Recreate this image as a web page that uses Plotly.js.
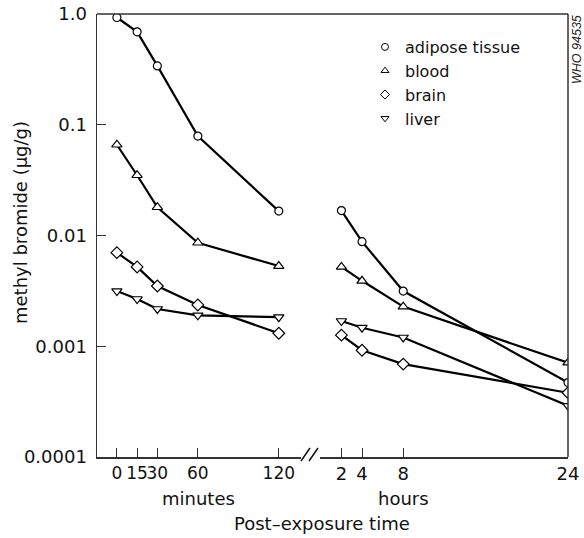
<!DOCTYPE html>
<html>
<head>
<meta charset="utf-8">
<script src="https://cdn.plot.ly/plotly-3.0.1.min.js"></script>
<style>html,body{margin:0;padding:0;background:#fff;}#chart{width:584px;height:538px;}</style>
</head>
<body>
<div id="chart"></div>
<script>
// ---- data ----
var minutes = [0, 15, 30, 60, 120];
var hours = [2, 4, 8, 24];
var minuteLabels = ["0", "15", "30", "60", "120"];
var hourLabels = ["2", "4", "8", "24"];
var yTickVals = [1, 0.1, 0.01, 0.001, 0.0001];
var yTickText = ["1.0", "0.1", "0.01", "0.001", "0.0001"];

var seriesNames = ["adipose tissue", "blood", "brain", "liver"];
var adiposeMin = [0.93, 0.69, 0.34, 0.079, 0.0166];
var adiposeHr = [0.0168, 0.0088, 0.00315, 0.00047];
var bloodMin = [0.066, 0.035, 0.018, 0.0086, 0.0053];
var bloodHr = [0.0052, 0.0039, 0.00228, 0.00071];
var brainMin = [0.0070, 0.0052, 0.0035, 0.00236, 0.00131];
var brainHr = [0.00126, 0.00092, 0.00069, 0.00038];
var liverMin = [0.00315, 0.00267, 0.00217, 0.0019, 0.00183];
var liverHr = [0.00169, 0.00147, 0.0012, 0.00029];

var symbols = ["circle", "triangle-up", "diamond", "triangle-down"];
var minSeries = [adiposeMin, bloodMin, brainMin, liverMin];
var hrSeries = [adiposeHr, bloodHr, brainHr, liverHr];
var markerSizes = [8, 9, 9, 9];

var FONT = "DejaVu Sans";
var traces = [];
for (var i = 0; i < 4; i++) {
  var mk = {symbol: symbols[i], size: markerSizes[i], color: "#ffffff", line: {color: "#000", width: 1.2}};
  traces.push({x: minutes, y: minSeries[i], xaxis: "x", yaxis: "y", mode: "lines+markers",
    line: {color: "#000", width: 2.2}, marker: mk, showlegend: false, name: seriesNames[i]});
  traces.push({x: hours, y: hrSeries[i], xaxis: "x2", yaxis: "y", mode: "lines+markers",
    line: {color: "#000", width: 2.2}, marker: mk, showlegend: false, name: seriesNames[i]});
}
for (var j = 0; j < 4; j++) {
  traces.push({x: [null], y: [null], xaxis: "x", yaxis: "y", mode: "markers", name: seriesNames[j],
    marker: {symbol: symbols[j], size: 7, color: "#fff", line: {color: "#000", width: 1}}, showlegend: true});
}

var W = 471, H = 443, L = 97, T = 14;
function px(x) { return (x - L) / W; }
function py(y) { return (T + H - y) / H; }

var axisCommon = {showgrid: false, zeroline: false, showline: true, linecolor: "#333", linewidth: 1.5,
  ticks: "inside", ticklen: 9, tickcolor: "#333", tickwidth: 1, tickangle: 0,
  tickfont: {family: FONT, size: 18, color: "#111"}, tickmode: "array"};

var layout = {
  width: 584, height: 538,
  margin: {l: L, r: 16, t: T, b: 81},
  paper_bgcolor: "#fff", plot_bgcolor: "#fff",
  font: {family: FONT, color: "#111"},
  showlegend: true,
  legend: {x: px(365), y: py(30), xanchor: "left", yanchor: "top", bgcolor: "rgba(0,0,0,0)",
    font: {family: FONT, size: 16, color: "#111"}, tracegroupgap: 0},
  xaxis: Object.assign({}, axisCommon, {domain: [0, px(301)], range: [-14.73, 136.45],
    tickvals: minutes, ticktext: minuteLabels, anchor: "y", tickfont: {family: FONT, size: 17, color: "#111"}}),
  xaxis2: Object.assign({}, axisCommon, {domain: [px(320), 1], range: [-0.08, 24],
    tickvals: hours, ticktext: hourLabels, anchor: "y"}),
  yaxis: Object.assign({}, axisCommon, {type: "log", range: [-4, 0], tickvals: yTickVals, ticktext: yTickText,
    anchor: "x", ticklabelstandoff: 5}),
  shapes: [
    {type: "line", xref: "paper", yref: "paper", x0: 0, x1: 1, y0: 1, y1: 1, line: {color: "#333", width: 1.5}},
    {type: "line", xref: "paper", yref: "paper", x0: 1, x1: 1, y0: 0, y1: 1, line: {color: "#333", width: 1.5}},
    {type: "line", xref: "paper", yref: "paper", x0: px(301), x1: px(310), y0: py(461), y1: py(448), line: {color: "#111", width: 1.5}},
    {type: "line", xref: "paper", yref: "paper", x0: px(309), x1: px(318), y0: py(461), y1: py(448), line: {color: "#111", width: 1.5}}
  ],
  annotations: [
    {text: "methyl bromide (µg/g)", xref: "paper", yref: "paper", x: px(20), y: py(223), textangle: -90,
      showarrow: false, xanchor: "center", yanchor: "middle", font: {family: FONT, size: 18, color: "#111"}},
    {text: "minutes", xref: "paper", yref: "paper", x: px(198), y: py(499), showarrow: false,
      xanchor: "center", yanchor: "middle", font: {family: FONT, size: 18, color: "#111"}},
    {text: "hours", xref: "paper", yref: "paper", x: px(403), y: py(499), showarrow: false,
      xanchor: "center", yanchor: "middle", font: {family: FONT, size: 18, color: "#111"}},
    {text: "Post–exposure time", xref: "paper", yref: "paper", x: px(322), y: py(523), showarrow: false,
      xanchor: "center", yanchor: "middle", font: {family: FONT, size: 18, color: "#111"}},
    {text: "WHO 94535", xref: "paper", yref: "paper", x: px(577), y: py(50), textangle: -90, showarrow: false,
      xanchor: "center", yanchor: "middle", font: {family: "Liberation Sans", size: 12.5, color: "#222", style: "italic"}}
  ]
};

Plotly.newPlot("chart", traces, layout, {displayModeBar: false, staticPlot: true});
</script>
</body>
</html>
